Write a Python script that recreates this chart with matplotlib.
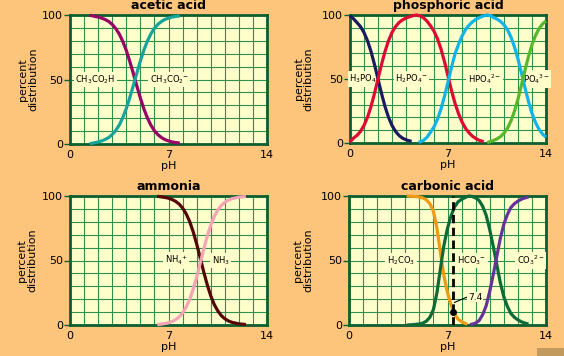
import numpy as np
import matplotlib
matplotlib.use("Agg")
import matplotlib.pyplot as plt
from matplotlib.patches import Rectangle

# percent distribution of species vs pH
acetic_ph = [1.4, 1.75, 2.0, 2.25, 2.5, 2.75, 3.0, 3.25, 3.5, 3.75, 4.0, 4.25, 4.5,
             4.75, 5.0, 5.25, 5.5, 5.75, 6.0, 6.25, 6.5, 6.75, 7.0, 7.25, 7.5, 7.8]
acetic_acid_pct = [99.8, 99, 98.4, 97.6, 96.5, 95, 92.7, 89.5, 85.3, 79.6, 72.5, 64, 54.7,
                   45, 35.6, 27.2, 20.2, 14.6, 10.3, 7.2, 5, 3.4, 2.4, 1.6, 1.1, 0.7]
acetate_pct = [0.2, 1, 1.6, 2.4, 3.5, 5, 7.3, 10.5, 14.7, 20.4, 27.5, 36, 45.3,
               55, 64.4, 72.8, 79.8, 85.4, 89.7, 92.8, 95, 96.6, 97.6, 98.4, 98.9, 99.3]

h3po4_ph = [0, 0.25, 0.5, 0.75, 1.0, 1.25, 1.5, 1.75, 2.0, 2.25, 2.5, 2.75, 3.0, 3.25,
            3.5, 3.75, 4.0, 4.4]
h3po4_pct = [99.5, 97, 94.1, 90.9, 86.3, 79.9, 71.5, 61.3, 50, 38.7, 28.5, 20.1, 13.7, 9.1,
             5.9, 3.8, 2.5, 1.2]
h2po4_ph = [0, 0.25, 0.5, 0.75, 1.0, 1.25, 1.5, 1.75, 2.0, 2.25, 2.5, 2.75, 3.0, 3.25,
            3.5, 3.75, 4.0, 4.25, 4.5, 4.75, 5.0, 5.25, 5.5, 5.75, 6.0, 6.25, 6.5, 6.75,
            7.0, 7.25, 7.5, 7.75, 8.0, 8.25, 8.5, 8.75, 9.0, 9.25, 9.55]
h2po4_pct = [0.8, 3.8, 5.9, 9.1, 13.7, 20.1, 28.5, 38.7, 50, 61.3, 71.5, 79.9, 86.3, 90.9,
             94.1, 96.2, 97.6, 98.6, 99.5, 100, 99.3, 97.8, 95.2, 91.6, 87.4, 81.4, 73.4, 63.5,
             52.3, 41, 31, 23, 16.5, 11.5, 8, 5.3, 3.4, 2, 1]
hpo4_ph = [4.9, 5.25, 5.5, 5.75, 6.0, 6.25, 6.5, 6.75, 7.0, 7.25, 7.5, 7.75, 8.0, 8.25,
           8.5, 8.75, 9.0, 9.25, 9.5, 9.8, 10.1, 10.25, 10.5, 10.75, 11.0, 11.25, 11.5,
           11.75, 12.0, 12.25, 12.5, 12.75, 13.0, 13.25, 13.5, 13.75, 14.0]
hpo4_pct = [0.5, 2.0, 4.5, 8.4, 12.6, 18.6, 26.6, 36.5, 47.7, 59.1, 69.6, 77, 83.5, 88.5,
            92, 94.7, 96.6, 98, 99.2, 100, 99.3, 98, 96.8, 95, 92.3, 88.4, 82.7,
            75.1, 65.6, 54.6, 43.1, 32.4, 23.2, 16, 10.7, 7, 4.6]
po4_ph = [9.8, 10.0, 10.25, 10.5, 10.75, 11.0, 11.25, 11.5, 11.75, 12.0, 12.25, 12.5,
          12.75, 13.0, 13.25, 13.5, 13.75, 14.0]
po4_pct = [0.3, 1, 2, 3.2, 5, 7.7, 11.6, 17.3, 24.9, 34.4, 45.4, 56.9,
           67.6, 76.8, 84, 89.3, 93, 95.4]

ammonia_ph = [6.2, 6.5, 6.75, 7.0, 7.25, 7.5, 7.75, 8.0, 8.25, 8.5, 8.75, 9.0, 9.25, 9.5,
              9.75, 10.0, 10.25, 10.5, 10.75, 11.0, 11.25, 11.5, 12.0, 12.5]
nh4_pct = [99.8, 99.3, 98.9, 98.3, 97.3, 95.9, 93.8, 90.7, 86.3, 80.3, 72.4, 62.9, 52.2, 41.3,
           31.3, 22.7, 15.9, 11, 7.3, 4.9, 3.2, 2.1, 0.9, 0.4]
nh3_pct = [0.2, 0.7, 1.1, 1.7, 2.7, 4.1, 6.2, 9.3, 13.7, 19.7, 27.6, 37.1, 47.8, 58.7,
           68.7, 77.3, 84.1, 89, 92.7, 95.1, 96.8, 97.9, 99.1, 99.6]

h2co3_ph = [4.1, 4.5, 5.0, 5.25, 5.5, 5.75, 6.0, 6.25, 6.5, 6.75, 7.0, 7.25, 7.5, 7.75,
            8.0, 8.25, 8.4]
h2co3_pct = [100, 99.8, 99.2, 98.5, 97, 94, 88, 75, 56, 38, 25, 15.5, 8.5, 4.5,
             2.6, 1.2, 0.6]
hco3_ph = [4.1, 4.5, 5.0, 5.25, 5.5, 5.75, 6.0, 6.25, 6.5, 6.75, 7.0, 7.25, 7.5, 7.75,
           8.0, 8.25, 8.5, 8.75, 9.0, 9.25, 9.5, 9.75, 10.0, 10.25, 10.5, 10.75, 11.0,
           11.25, 11.5, 11.75, 12.0, 12.25, 12.5, 12.76]
hco3_pct = [0, 0.2, 0.8, 1.5, 3, 6, 12, 25, 44, 62, 75, 84.5, 91.5, 95.5,
            97.4, 98.8, 100, 99.6, 98.5, 96.5, 92, 85, 74, 61, 47, 33, 22,
            14.5, 9, 6, 4, 2.5, 1.5, 0.7]
co3_ph = [8.6, 8.75, 9.0, 9.25, 9.5, 9.75, 10.0, 10.25, 10.5, 10.75, 11.0, 11.25, 11.5,
          11.75, 12.0, 12.25, 12.5, 12.76]
co3_pct = [0.3, 0.6, 1.5, 3.5, 8, 15, 26, 39, 53, 67, 78, 85.5, 91,
           94, 96, 97.5, 98.5, 99.3]

blood_ph = 7.4
blood_h2co3_pct = 10

BG = "#fdc47c"
PANEL = "#ffffcc"
GRID = "#2f8f4f"
FRAME = "#0b5e2e"
LW = 2.3

fig = plt.figure(figsize=(5.64, 3.56), dpi=100, facecolor=BG)


def setup(ax, title, ylab_x):
    ax.set_facecolor(PANEL)
    ax.set_xlim(0, 14)
    ax.set_ylim(0, 100)
    ax.set_xticks([0, 7, 14])
    ax.set_yticks([0, 50, 100])
    ax.set_xticks(np.arange(15), minor=True)
    ax.set_yticks(np.arange(0, 101, 10), minor=True)
    ax.grid(which="both", color=GRID, lw=0.8)
    ax.set_axisbelow(True)
    ax.tick_params(which="minor", length=0)
    ax.tick_params(axis="x", length=0, pad=4, labelsize=8)
    ax.tick_params(axis="y", length=4, width=1, color=FRAME, pad=1, labelsize=8)
    for s in ax.spines.values():
        s.set_color(FRAME)
        s.set_linewidth(2)
    ax.set_title(title, fontsize=9, fontweight="bold", pad=4)
    ax.set_xlabel("pH", fontsize=8)
    ax.xaxis.set_label_coords(0.5, -0.13)
    ax.set_ylabel("percent\ndistribution", fontsize=8, linespacing=1.0, va="center")
    ax.yaxis.set_label_coords(ylab_x, 0.5)


def curve(ax, x, y, color):
    ax.plot(x, y, color=color, lw=LW, clip_on=False, zorder=4,
            solid_capstyle="butt", solid_joinstyle="round")


def label(ax, x, s):
    ax.text(x, 50, s, ha="center", va="center", fontsize=6, zorder=3,
            bbox=dict(fc=PANEL, ec="none", pad=1.2))


# acetic acid
ax1 = fig.add_axes([70 / 564, 1 - 144 / 356, 197 / 564, 129 / 356])
setup(ax1, "acetic acid", -0.213)
curve(ax1, acetic_ph, acetic_acid_pct, "#990066")
curve(ax1, acetic_ph, acetate_pct, "#16a39c")
label(ax1, 1.8, r"CH$_3$CO$_2$H")
label(ax1, 7.05, r"CH$_3$CO$_2$$^{-}$")

# phosphoric acid
ax2 = fig.add_axes([350 / 564, 1 - 143 / 356, 196 / 564, 128 / 356])
setup(ax2, "phosphoric acid", -0.237)
curve(ax2, h3po4_ph, h3po4_pct, "#1a1a5e")
curve(ax2, h2po4_ph, h2po4_pct, "#dd0a33")
curve(ax2, hpo4_ph, hpo4_pct, "#12b2ea")
curve(ax2, po4_ph, po4_pct, "#55b82a")
label(ax2, 0.93, r"H$_3$PO$_4$")
label(ax2, 4.4, r"H$_2$PO$_4$$^{-}$")
label(ax2, 9.6, r"HPO$_4$$^{2-}$")
label(ax2, 13.3, r"PO$_4$$^{3-}$")

# ammonia
ax3 = fig.add_axes([70 / 564, 1 - 325 / 356, 197 / 564, 129 / 356])
setup(ax3, "ammonia", -0.216)
curve(ax3, ammonia_ph, nh4_pct, "#550505")
curve(ax3, ammonia_ph, nh3_pct, "#f5a3b5")
label(ax3, 7.55, r"NH$_4$$^{+}$")
label(ax3, 10.7, r"NH$_3$")

# carbonic acid
ax4 = fig.add_axes([349 / 564, 1 - 325 / 356, 197 / 564, 129 / 356])
setup(ax4, "carbonic acid", -0.234)
curve(ax4, h2co3_ph, h2co3_pct, "#ee9a12")
curve(ax4, hco3_ph, hco3_pct, "#0b6a35")
curve(ax4, co3_ph, co3_pct, "#663399")
label(ax4, 3.7, r"H$_2$CO$_3$")
label(ax4, 8.7, r"HCO$_3$$^{-}$")
label(ax4, 12.9, r"CO$_3$$^{2-}$")
ax4.plot([blood_ph, blood_ph], [0, 100], color="black", lw=2, ls=(0, (3, 1.6)), zorder=5)
ax4.plot([blood_ph], [blood_h2co3_pct], "o", color="black", ms=4, zorder=6)
ax4.plot([blood_ph + 0.1, blood_ph + 0.95], [17.5, 21.5], color="black", lw=0.8, zorder=6)
ax4.text(blood_ph + 1.05, 21.5, "7.4", fontsize=6.5, ha="left", va="center", zorder=6,
         bbox=dict(fc=PANEL, ec="none", pad=0.5))

fig.patches.append(Rectangle((537 / 564, 0), 27 / 564, 8 / 356, transform=fig.transFigure,
                             fc="#c39a5e", ec="none"))

fig.savefig("out.png", dpi=100, facecolor=BG)
